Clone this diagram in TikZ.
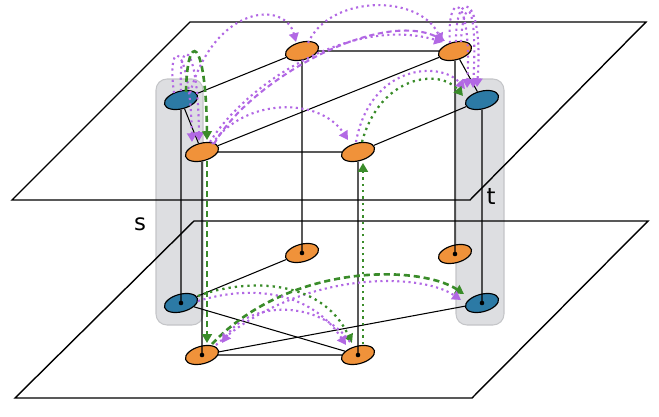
\documentclass[tikz,border=0pt]{standalone}
\usepackage{fontspec}
\setsansfont{DejaVu Sans}
\usetikzlibrary{shapes, arrows.meta, calc}
\definecolor{nodeorange}{RGB}{240,146,58}
\definecolor{nodeblue}{RGB}{44,122,165}
\definecolor{walkpurple}{RGB}{178,104,228}
\definecolor{walkgreen}{RGB}{58,140,42}
\definecolor{boxgray}{RGB}{221,222,225}
\definecolor{boxedge}{RGB}{196,197,200}
\tikzstyle{vertex}=[ellipse, draw, line width=0.65pt, minimum width=0.68cm, minimum height=0.35cm, inner sep=0pt, rotate=15, fill=nodeorange]
\tikzstyle{terminal}=[vertex, fill=nodeblue]
\tikzstyle{plane}=[draw, line width=0.8pt]
\tikzstyle{groupbox}=[fill=boxgray, draw=boxedge, line width=0.6pt, rounded corners=0.22cm]
\tikzstyle{link}=[line width=0.6pt]
\tikzstyle{walktip}=[-{Triangle[length=5pt,width=5.5pt]}]
\tikzstyle{walkP}=[walktip, walkpurple, line width=1.2pt, dash pattern=on 1.2pt off 2pt]
\tikzstyle{walkPd}=[walktip, walkpurple, line width=1.2pt, dash pattern=on 3pt off 2pt]
\tikzstyle{walkG}=[walktip, walkgreen, line width=1.3pt, dash pattern=on 1.3pt off 2.3pt]
\tikzstyle{walkGd}=[walktip, walkgreen, line width=1.5pt, dash pattern=on 3.5pt off 2.2pt]
\tikzstyle{tag}=[font=\sffamily\fontsize{13}{15}\selectfont]

\begin{document}
\begin{tikzpicture}[x=0.02cm, y=-0.02cm]
      \useasboundingbox (0,0) rectangle (659,416);

      % the two terminal groups
      \path[groupbox] (156,79) rectangle (203,325);
      \path[groupbox] (456,79) rectangle (504,325);

      % layers
      \path[plane] (190,22) -- (646,22) -- (470,200) -- (12,200) -- cycle;
      \path[plane] (194,221) -- (648,221) -- (472,398) -- (15,398) -- cycle;

      % upper layer
      \node[terminal] (s1) at (181,100) {};
      \node[vertex] (A) at (202,152) {};
      \node[vertex] (B) at (302,51) {};
      \node[vertex] (C) at (455,51) {};
      \node[terminal] (t1) at (482,100) {};
      \node[vertex] (D) at (358,152) {};
      % lower layer
      \node[vertex] (E) at (302,253) {};
      \node[vertex] (F) at (455,254) {};
      \node[terminal] (s2) at (181,303) {};
      \node[terminal] (t2) at (482,303) {};
      \node[vertex] (G) at (202,355) {};
      \node[vertex] (H) at (358,355) {};

      \node[tag] (slabel) at (140,224) {s};
      \node[tag] (tlabel) at (491,196) {t};

      \draw[link] (s1) -- (B);
      \draw[link] (s1) -- (A);
      \draw[link] (A) -- (C);
      \draw[link] (A) -- (D);
      \draw[link] (B) -- (C);
      \draw[link] (C) -- (t1);
      \draw[link] (D) -- (t1);
      \draw[link] (s2) -- (E);
      \draw[link] (s2) -- (H);
      \draw[link] (G) -- (t2);
      \draw[link] (G) -- (H);

      \foreach \u/\l in {s1/s2, A/G, B/E, C/F, t1/t2, D/H}{
        \draw[link] (\u) -- (\l.center);
      }
      \foreach \l in {E, F, s2, t2, G, H}{
        \fill[black] (\l) circle (1.3pt);
      }

      % walks in the upper layer
      \draw[walkP] ($(s1)+(-7,-7)$) .. controls (166,36) and (190,40) .. ($(A)+(-10,-10)$);
      \draw[walkP] ($(s1)+(0,-9)$) .. controls (178,35) and (198,38) .. ($(A)+(-3,-11)$);
      \draw[walkGd] ($(s1)+(5,-8)$) .. controls (187,30) and (206,35) .. ($(A)+(5,-12)$);
      \draw[walkP] ($(s1)+(9,-7)$) .. controls (215,5) and (285,0) .. ($(B)+(-6,-9)$);
      \draw[walkP] ($(B)+(6,-8)$) .. controls (330,-6) and (420,-6) .. ($(C)+(-13,-9)$);
      \draw[walkPd] ($(A)+(12,-8)$) .. controls (250,80) and (380,8) .. ($(C)+(-10,-10)$);
      \draw[walkP] ($(A)+(8,-10)$) .. controls (245,85) and (350,15) .. ($(C)+(-12,-9)$);
      \draw[walkP] ($(A)+(10,-8)$) .. controls (245,97) and (320,97) .. ($(D)+(-10,-12)$);
      \draw[walkP] ($(D)+(-2,-10)$) .. controls (370,65) and (440,60) .. ($(t1)+(-17,-11)$);
      \draw[walkG] ($(D)+(4,-10)$) .. controls (380,75) and (440,68) .. ($(t1)+(-19,-4)$);
      \draw[walkP] ($(C)+(-5,-8)$) .. controls (446,-10) and (472,-10) .. ($(t1)+(-15,-12)$);
      \draw[walkP] ($(C)+(1,-9)$) .. controls (455,-12) and (484,-8) .. ($(t1)+(-5,-13)$);
      \draw[walkP] ($(C)+(6,-9)$) .. controls (463,-4) and (478,-4) .. ($(t1)+(-9,-12)$);

      % between the layers
      \draw[walkGd] ($(A)+(5,9)$) -- ($(G)+(5,-12)$);
      \draw[walkG] ($(H)+(5,-11)$) -- ($(D)+(5,11)$);

      % walks in the lower layer
      \draw[walkGd] ($(G)+(10,-11)$) .. controls (290,262) and (420,265) .. ($(t2)+(-18,-9)$);
      \draw[walkP] ($(G)+(14,-10)$) .. controls (300,270) and (420,272) .. ($(t2)+(-21,-3)$);
      \draw[walkG] ($(s2)+(17,-7)$) .. controls (240,280) and (320,275) .. ($(H)+(-6,-12)$);
      \draw[walkP] ($(s2)+(17,-2)$) .. controls (250,285) and (310,290) .. ($(H)+(-12,-10)$);
      \draw[walkP] ($(H)+(-8,-13)$) .. controls (320,300) and (250,300) .. ($(G)+(20,-12)$);

\end{tikzpicture}
\end{document}
